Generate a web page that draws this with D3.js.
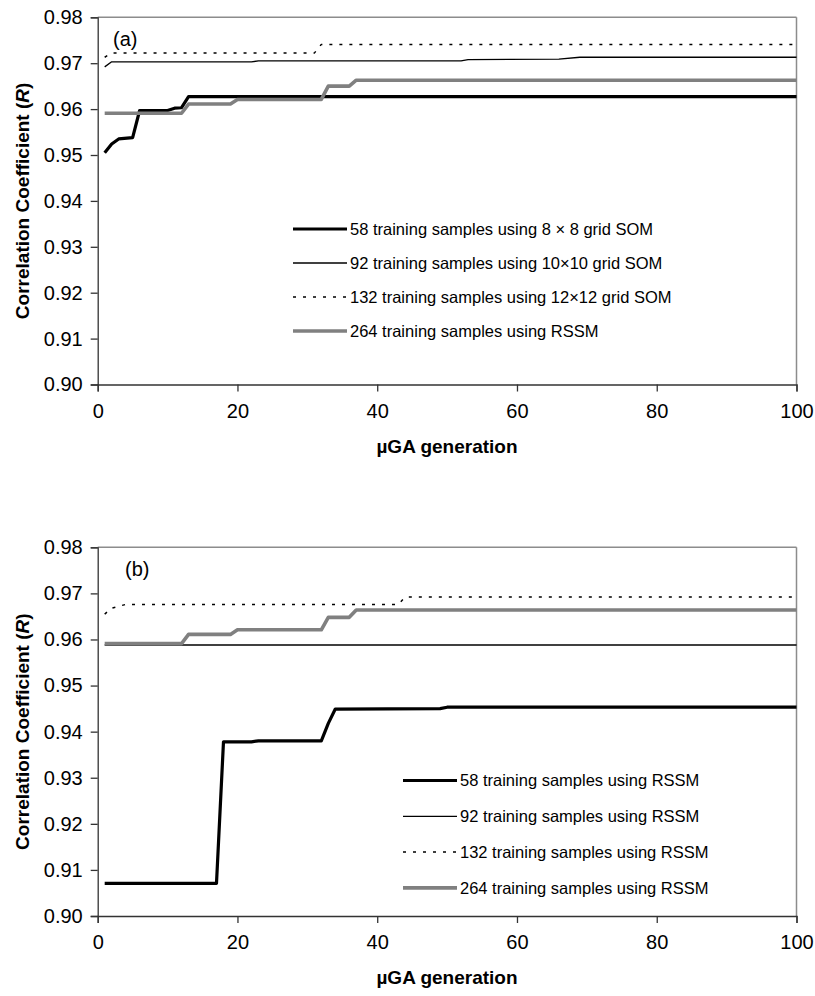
<!DOCTYPE html>
<html>
<head>
<meta charset="utf-8">
<script src="https://cdn.jsdelivr.net/npm/d3@7"></script>
<style>
  html, body { margin: 0; padding: 0; background: #fff; }
  svg text { font-family: "Liberation Sans", Arial, sans-serif; fill: #000; }
</style>
</head>
<body>
<svg id="chart" width="815" height="996"></svg>
<script>
// ---------- DATA ----------
const yTicks = [0.90, 0.91, 0.92, 0.93, 0.94, 0.95, 0.96, 0.97, 0.98];
const xTicks = [0, 20, 40, 60, 80, 100];

// Panel (a)
const a58Gen = [1, 2, 3, 5, 6, 10, 11, 12, 13, 100];
const a58Val = [0.9505, 0.9524, 0.9535, 0.9538, 0.9597, 0.9597, 0.9602, 0.9603, 0.9627, 0.9627];
const a92Gen = [1, 2, 22, 23, 52, 53, 66, 69, 100];
const a92Val = [0.9692, 0.9703, 0.9703, 0.9705, 0.9705, 0.9708, 0.9709, 0.9713, 0.9713];
const a132Gen = [1, 2, 31, 32, 100];
const a132Val = [0.9713, 0.9722, 0.9722, 0.9741, 0.9741];
const a264Gen = [1, 12, 13, 19, 20, 32, 33, 36, 37, 100];
const a264Val = [0.9591, 0.9591, 0.9611, 0.9611, 0.9621, 0.9621, 0.9650, 0.9650, 0.9663, 0.9663];

// Panel (b)
const b58Gen = [1, 17, 18, 22, 23, 32, 33, 34, 49, 50, 100];
const b58Val = [0.9071, 0.9071, 0.9378, 0.9378, 0.9380, 0.9380, 0.9418, 0.9449, 0.9450, 0.9453, 0.9453];
const b92Gen = [1, 100];
const b92Val = [0.9588, 0.9588];
const b132Gen = [1, 2, 4, 43, 44, 100];
const b132Val = [0.9655, 0.9668, 0.9676, 0.9676, 0.9692, 0.9692];
const b264Gen = [1, 12, 13, 19, 20, 32, 33, 36, 37, 100];
const b264Val = [0.9591, 0.9591, 0.9611, 0.9611, 0.9621, 0.9621, 0.9648, 0.9648, 0.9664, 0.9664];

const legendA = [
  "58 training samples using 8 \u00d7 8 grid SOM",
  "92 training samples using 10\u00d710 grid SOM",
  "132 training samples using 12\u00d712 grid SOM",
  "264 training samples using RSSM"
];
const legendB = [
  "58 training samples using RSSM",
  "92 training samples using RSSM",
  "132 training samples using RSSM",
  "264 training samples using RSSM"
];

// ---------- STYLES ----------
const styles = [
  { stroke: "#000", width: 3.2, dash: null },
  { stroke: "#000", width: 1.3, dash: null },
  { stroke: "#000", width: 1.5, dash: "3,7" },
  { stroke: "#808080", width: 3.6, dash: null }
];

const svg = d3.select("#chart");

function zip(g, v) { return g.map((d, i) => ({ x: d, y: v[i] })); }

function panel(cfg) {
  const x = d3.scaleLinear().domain([0, 100]).range([97.7, 796.5]);
  const y = d3.scaleLinear().domain([0.90, 0.98]).range([cfg.bottom, cfg.top]);
  const g = svg.append("g");

  // frame (top/right gray)
  g.append("line").attr("x1", x(0)).attr("x2", x(100)).attr("y1", y(0.98)).attr("y2", y(0.98))
    .attr("stroke", "#8c8c8c").attr("stroke-width", 1.5);
  g.append("line").attr("x1", x(100)).attr("x2", x(100)).attr("y1", y(0.98)).attr("y2", y(0.90))
    .attr("stroke", "#8c8c8c").attr("stroke-width", 1.5);

  // series
  const line = d3.line().x(d => x(d.x)).y(d => y(d.y));
  cfg.series.forEach((s, i) => {
    const st = styles[i];
    g.append("path").datum(zip(s[0], s[1]))
      .attr("d", line).attr("fill", "none")
      .attr("stroke", st.stroke).attr("stroke-width", st.width)
      .attr("stroke-dasharray", st.dash)
      .attr("stroke-linejoin", "round");
  });

  // axes
  const yAxis = d3.axisLeft(y).tickValues(yTicks).tickFormat(d3.format(".2f")).tickSizeOuter(0).tickSize(7).tickPadding(8);
  const ya = g.append("g").attr("transform", `translate(${x(0)},0)`).call(yAxis);
  const xAxis = d3.axisBottom(x).tickValues(xTicks).tickFormat(d3.format("d")).tickSizeOuter(0).tickSize(7).tickPadding(12);
  const xa = g.append("g").attr("transform", `translate(0,${y(0.90)})`).call(xAxis);
  [ya, xa].forEach(a => {
    a.select(".domain").attr("stroke", "#333").attr("stroke-width", 1.3);
    a.selectAll(".tick line").attr("stroke", "#333").attr("stroke-width", 1.3);
    a.selectAll(".tick text").attr("font-size", 20).attr("font-family", "Liberation Sans, Arial, sans-serif").attr("fill", "#000");
  });

  // axis titles
  g.append("text").attr("x", 447).attr("y", cfg.bottom + 68)
    .attr("text-anchor", "middle").attr("font-size", 19).attr("font-weight", "bold")
    .text("\u00b5GA generation");
  const yt = g.append("text")
    .attr("transform", `translate(29,${(cfg.top + cfg.bottom) / 2}) rotate(-90)`)
    .attr("text-anchor", "middle").attr("font-size", 19).attr("font-weight", "bold");
  yt.append("tspan").text("Correlation Coefficient (");
  yt.append("tspan").attr("font-style", "italic").text("R");
  yt.append("tspan").text(")");

  // panel label
  g.append("text").attr("x", cfg.labelX).attr("y", cfg.top + 29).attr("font-size", 20).text(cfg.label);

  // legend
  cfg.legend.forEach((t, i) => {
    const st = styles[i];
    const ly = cfg.legY + i * cfg.legStep;
    g.append("line").attr("x1", cfg.legX).attr("x2", cfg.legX + 54).attr("y1", ly).attr("y2", ly)
      .attr("stroke", st.stroke).attr("stroke-width", st.width).attr("stroke-dasharray", st.dash);
    g.append("text").attr("x", cfg.legX + 57).attr("y", ly).attr("dy", "0.35em")
      .attr("font-size", 16.5).text(t);
  });
}

panel({
  top: 17.3, bottom: 384.5, label: "(a)", labelX: 113,
  series: [[a58Gen, a58Val], [a92Gen, a92Val], [a132Gen, a132Val], [a264Gen, a264Val]],
  legend: legendA, legX: 293, legY: 229, legStep: 34
});
panel({
  top: 547.3, bottom: 916, label: "(b)", labelX: 125,
  series: [[b58Gen, b58Val], [b92Gen, b92Val], [b132Gen, b132Val], [b264Gen, b264Val]],
  legend: legendB, legX: 403, legY: 780.5, legStep: 35.8
});
</script>
</body>
</html>
